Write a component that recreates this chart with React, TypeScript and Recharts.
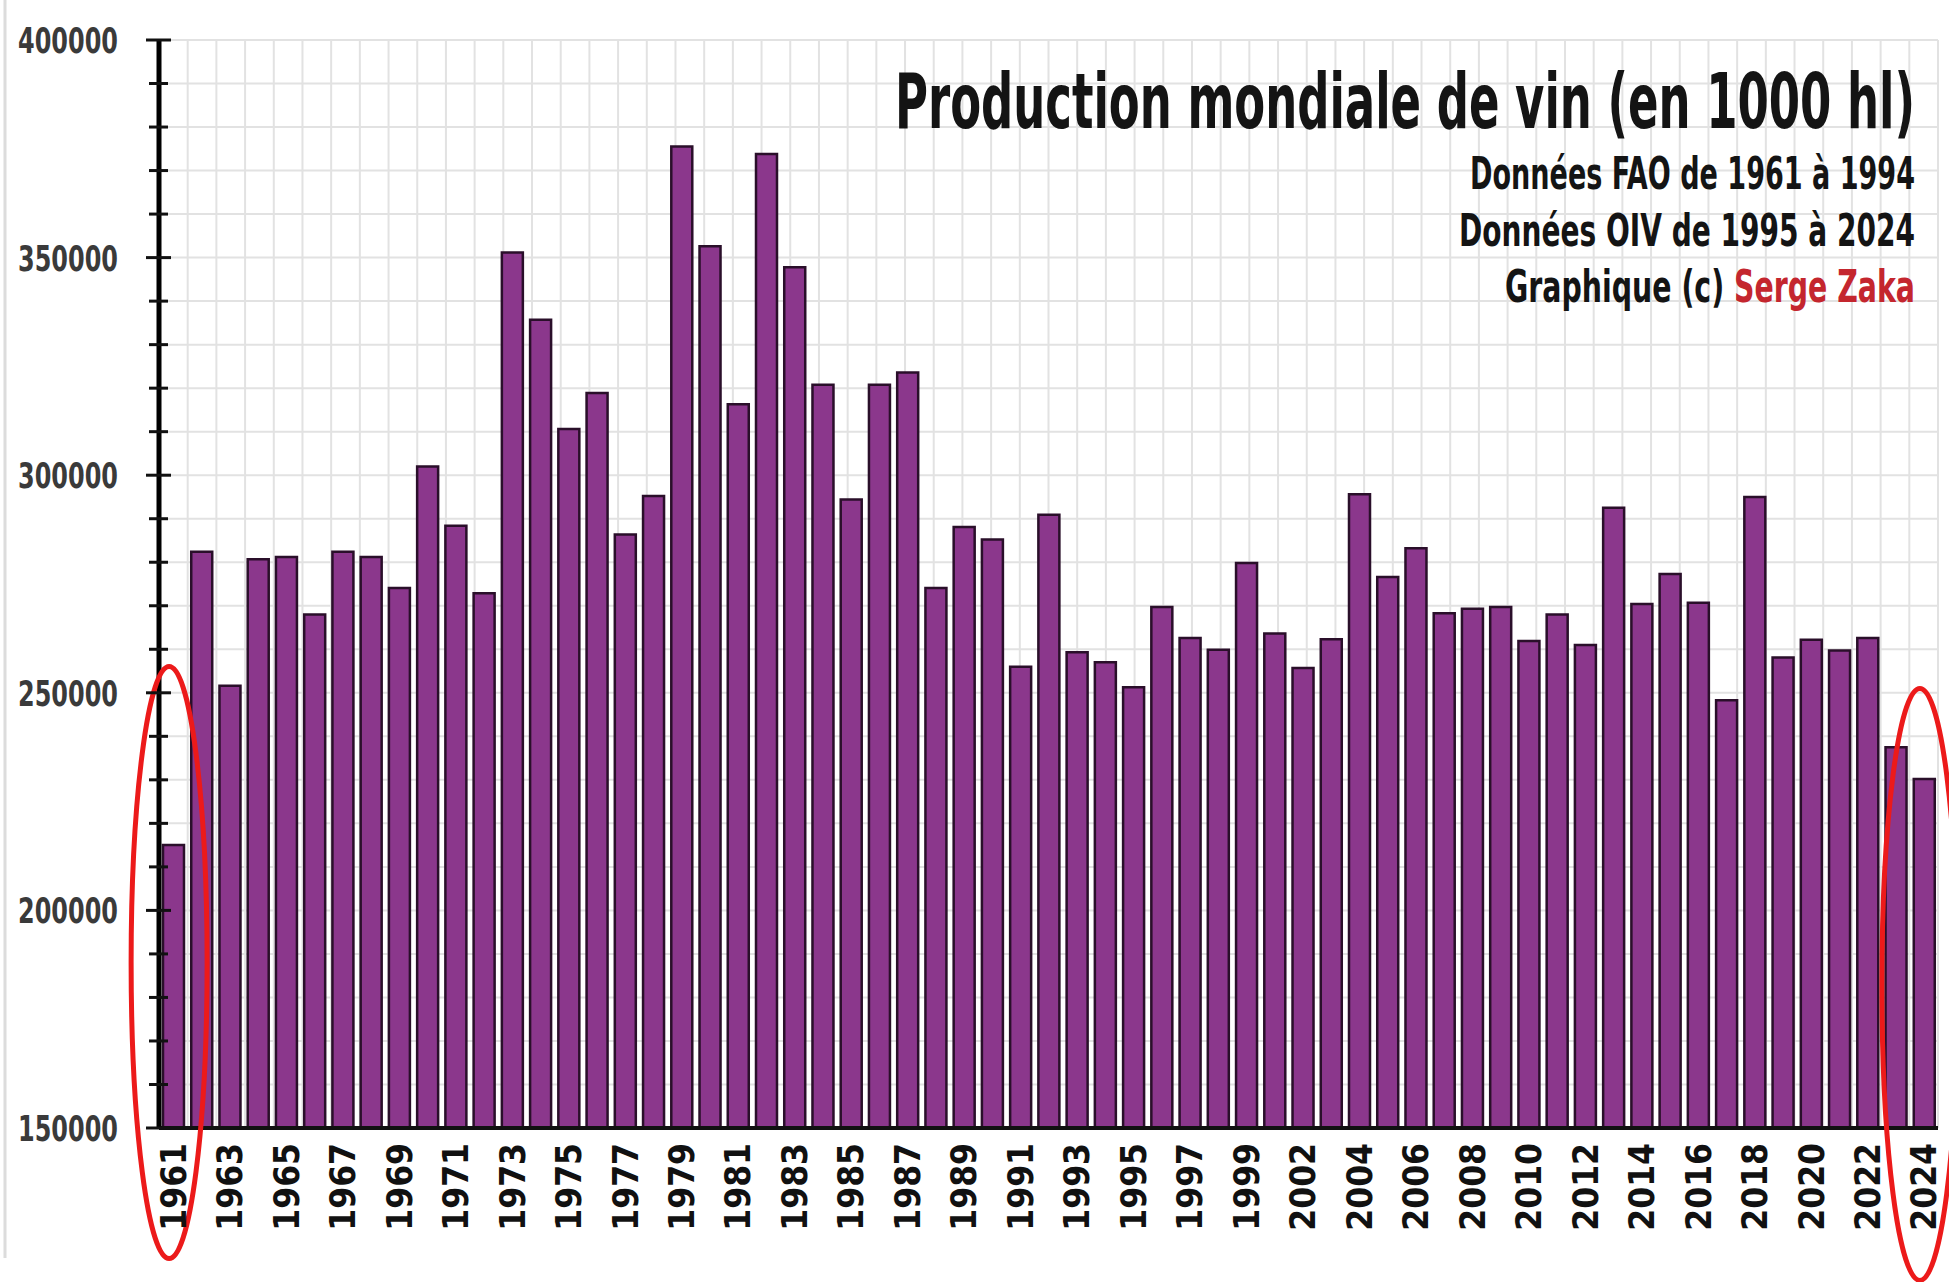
import React from "react"
import { BarChart, Bar, XAxis, YAxis, CartesianGrid, ReferenceDot } from "recharts"

const years = [
  "1961", "1962", "1963", "1964", "1965", "1966", "1967", "1968", "1969", "1970",
  "1971", "1972", "1973", "1974", "1975", "1976", "1977", "1978", "1979", "1980",
  "1981", "1982", "1983", "1984", "1985", "1986", "1987", "1988", "1989", "1990",
  "1991", "1992", "1993", "1994", "1995", "1996", "1997", "1998", "1999", "2001",
  "2002", "2003", "2004", "2005", "2006", "2007", "2008", "2009", "2010", "2011",
  "2012", "2013", "2014", "2015", "2016", "2017", "2018", "2019", "2020", "2021",
  "2022", "2023", "2024",
]

// production mondiale, en 1000 hl
const production = [
  215000, 282400, 251600, 280700, 281200, 268000, 282400, 281200, 274100, 302000,
  288400, 272900, 351200, 335700, 310600, 318900, 286400, 295200, 375500, 352600,
  316300, 373800, 347800, 320800, 294400, 320800, 323600, 274100, 288100, 285200,
  256000, 290900, 259300, 257000, 251300, 269700, 262600, 259900, 279800, 263600,
  255700, 262300, 295600, 276600, 283200, 268300, 269300, 269700, 261900, 268000,
  261000, 292500, 270400, 277300, 270700, 248300, 295000, 258100, 262200, 259700,
  262600, 237500, 230200,
]

const yTicks = [
  150000, 160000, 170000, 180000, 190000, 200000, 210000, 220000, 230000, 240000,
  250000, 260000, 270000, 280000, 290000, 300000, 310000, 320000, 330000, 340000,
  350000, 360000, 370000, 380000, 390000, 400000,
]

const boundaryTicks = [
  0, 1, 2, 3, 4, 5, 6, 7, 8, 9, 10, 11, 12, 13, 14, 15, 16, 17, 18, 19, 20, 21,
  22, 23, 24, 25, 26, 27, 28, 29, 30, 31, 32, 33, 34, 35, 36, 37, 38, 39, 40, 41,
  42, 43, 44, 45, 46, 47, 48, 49, 50, 51, 52, 53, 54, 55, 56, 57, 58, 59, 60, 61,
  62, 63,
]

// red ellipses highlighting the first and last year
const highlights = [
  { year: "1961", center: 188000 },
  { year: "2024", center: 183000 },
]

const data = years.map((year, i) => ({ year, value: production[i] }))

const FONT = "'DejaVu Sans Condensed', 'Liberation Sans Narrow', 'DejaVu Sans', sans-serif"

const YTick = ({ x, y, payload }: any) => {
  const major = payload.value % 50000 === 0
  return (
    <g>
      <line x1={x - (major ? 13 : 10)} x2={x + (major ? 12 : 9)} y1={y} y2={y} stroke="#111" strokeWidth={3} />
      {major && (
        <text
          x={x - 141}
          y={y}
          dy="0.36em"
          fontFamily={FONT}
          fontStretch="condensed"
          fontWeight="bold"
          fontSize={36}
          fill="#3a3a3a"
          textLength={100}
          lengthAdjust="spacingAndGlyphs"
        >
          {payload.value}
        </text>
      )}
    </g>
  )
}

const BoundaryTick = ({ x, y }: any) => (
  <line x1={x} x2={x} y1={y - 14} y2={y + 14} stroke="#1a1a1a" strokeWidth={3} />
)

const YearTick = ({ x, y, payload }: any) => (
  <text
    x={x}
    y={y + 15}
    dy="0.36em"
    transform={`rotate(-90, ${x}, ${y + 15})`}
    textAnchor="end"
    fontFamily={FONT}
    fontStretch="condensed"
    fontWeight="bold"
    fontSize={35}
    fill="#111"
  >
    {payload.value}
  </text>
)

const Ellipse = ({ cx, cy }: any) => (
  <ellipse cx={cx - 4} cy={cy} rx={38} ry={296} fill="none" stroke="#ec1a1a" strokeWidth={5} />
)

export default function App() {
  return (
    <div style={{ position: "absolute", left: 0, top: 0, width: 1949, height: 1282, background: "#fff" }}>
      <BarChart
        width={1949}
        height={1282}
        data={data}
        margin={{ top: 40, right: 11, left: 9, bottom: 44 }}
        barSize={21}
      >
        <CartesianGrid xAxisId="grid" stroke="#e2e2e2" strokeWidth={2} />
        <XAxis
          xAxisId="grid"
          type="number"
          domain={[0, 63]}
          ticks={boundaryTicks}
          interval={0}
          allowDataOverflow
          height={0}
          axisLine={false}
          tickLine={false}
          tickSize={0}
          tickMargin={0}
          tick={<BoundaryTick />}
        />
        <XAxis
          dataKey="year"
          interval={1}
          height={110}
          tickLine={false}
          tickSize={0}
          tickMargin={0}
          axisLine={{ stroke: "#111", strokeWidth: 4 }}
          tick={<YearTick />}
        />
        <XAxis
          xAxisId="top"
          orientation="top"
          type="number"
          domain={[0, 63]}
          allowDataOverflow
          height={0}
          tick={false}
          tickLine={false}
          axisLine={{ stroke: "#111", strokeWidth: 3 }}
        />
        <YAxis
          domain={[150000, 400000]}
          ticks={yTicks}
          interval={0}
          allowDataOverflow
          width={150}
          tickLine={false}
          tickSize={0}
          tickMargin={0}
          axisLine={{ stroke: "#000", strokeWidth: 5 }}
          tick={<YTick />}
        />
        <YAxis
          yAxisId="right"
          orientation="right"
          domain={[150000, 400000]}
          allowDataOverflow
          width={0}
          tick={false}
          tickLine={false}
          axisLine={{ stroke: "#111", strokeWidth: 3 }}
        />
        <Bar dataKey="value" fill="#8b378c" stroke="#2a0f2a" strokeWidth={2.5} isAnimationActive={false} />
        {highlights.map((h) => (
          <ReferenceDot key={h.year} x={h.year} y={h.center} ifOverflow="visible" shape={<Ellipse />} />
        ))}
      </BarChart>
      <svg
        width={1949}
        height={1282}
        style={{ position: "absolute", left: 0, top: 0, pointerEvents: "none" }}
      >
        <line x1={5} x2={5} y1={0} y2={1258} stroke="#dcdcdc" strokeWidth={3} />
        <g fontFamily={FONT} fontStretch="condensed" fontWeight="bold" fill="#141414">
          <text x={895} y={128} fontSize={76} textLength={1020} lengthAdjust="spacingAndGlyphs">
            Production mondiale de vin (en 1000 hl)
          </text>
          <text x={1470} y={189} fontSize={45} textLength={445} lengthAdjust="spacingAndGlyphs">
            Données FAO de 1961 à 1994
          </text>
          <text x={1459} y={246} fontSize={45} textLength={456} lengthAdjust="spacingAndGlyphs">
            Données OIV de 1995 à 2024
          </text>
          <text x={1505} y={302} fontSize={45} textLength={410} lengthAdjust="spacingAndGlyphs">
            Graphique (c) <tspan fill="#c4262e">Serge Zaka</tspan>
          </text>
        </g>
      </svg>
    </div>
  )
}
